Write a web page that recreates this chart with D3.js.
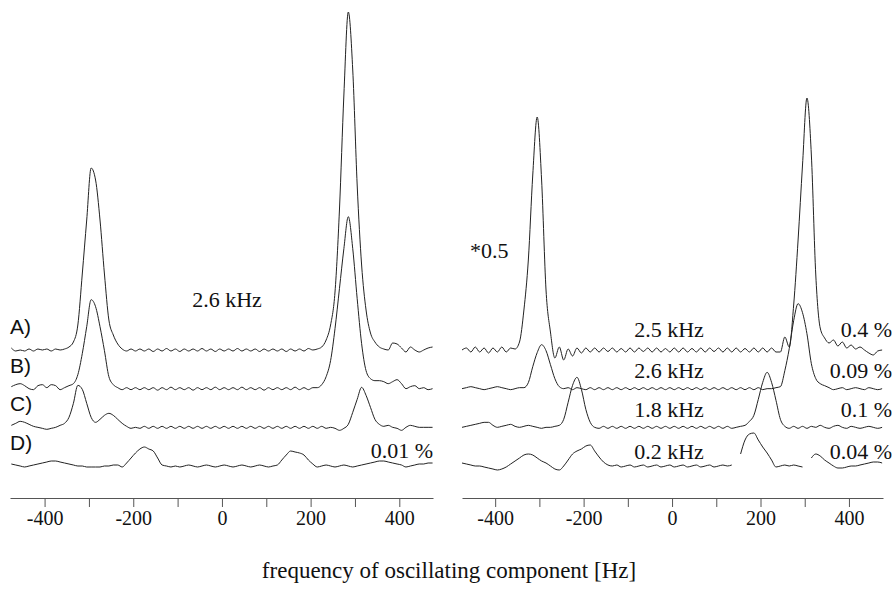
<!DOCTYPE html>
<html lang="en">
<head>
<meta charset="UTF-8">
<title>Oscillating component spectra</title>
<script src="https://d3js.org/d3.v7.min.js"></script>
<style>
  body { margin: 0; background: #fff; }
  .trace { fill: none; stroke: #222; stroke-width: 1; stroke-linejoin: round; }
  .axis path, .axis line { stroke: #555; stroke-width: 1; }
  .axis text { font-family: "Liberation Serif", "Times New Roman", serif; font-size: 20px; fill: #111; }
  .serif { font-family: "Liberation Serif", "Times New Roman", serif; font-size: 22px; fill: #111; }
  .sans { font-family: "Liberation Sans", Arial, sans-serif; font-size: 21px; fill: #111; }
</style>
</head>
<body>
<div id="chart"></div>
<script>
// sample grid (Hz), 10 Hz spacing
const freqHz = [-475,-465,-455,-445,-435,-425,-415,-405,-395,-385,
  -375,-365,-355,-345,-335,-325,-315,-305,-295,-285,
  -275,-265,-255,-245,-235,-225,-215,-205,-195,-185,
  -175,-165,-155,-145,-135,-125,-115,-105,-95,-85,
  -75,-65,-55,-45,-35,-25,-15,-5,5,15,
  25,35,45,55,65,75,85,95,105,115,
  125,135,145,155,165,175,185,195,205,215,
  225,235,245,255,265,275,285,295,305,315,
  325,335,345,355,365,375,385,395,405,415,
  425,435,445,455,465,475];

// left panel amplitudes
const leftA = [2,-1,0,-1,1,-1,1,0,1,-1,
  1,0,1,3,8,25,76,130,182,170,
  130,76,30,15,6,1,-1,1,-1,1,
  -1,1,-1.5,1,-1,1.5,-1,1,-1.5,1,
  -1,1,-1,1.5,-1,1,-1.5,1,-1,1,
  -1,1.5,-1,1,-1,1,-1.5,1,-1,1,
  -1,1,-1.5,1,-1,1,-1,1.5,0,1,
  3,10,25,58,140,255,338,280,165,85,
  40,17,8,3,1,0,7,6,2,-2,
  3,0,-2,0,2,3];
const leftB = [2,4,5,3,0,-1,3,4,1,4,
  3,-1,1,3,5,14,35,62,89,82,
  62,38,12,4,1,-1,1,-1,1,-1,
  1,-1,1,-1.5,1,-1,1.5,-1,1,-1,
  1,-1.5,1,-1,1,-1,1.5,-1,1,-1,
  1,-1,1.5,-1,1,-1,1,-1.5,1,-1,
  1,-1,1,-1,1.5,-1,1,-1,1,1,
  4,12,28,60,100,140,172,140,90,45,
  18,10,8,8,7,5,7,9,5,0,
  2,3,0,1,-1,0];
const leftC = [2,4,6,5,3,1,0,-1,-2,-1,
  0,2,4,10,24,42,38,24,10,5,
  8,12,14,12,8,4,1,-1,0,-1,
  1,-1,1,-1,1,-1,1,-1,1,-1,
  1,-1,1,-1,1,-1,1,-1,1,-1,
  1,-1,1,-1,1,-1,1,-1,1,-1,
  1,-1,1,-1,1,-1,1,-1,1,-1,
  1,-1,0,-1,-3,-1,3,15,28,40,
  32,20,8,3,1,2,0,-1,-3,0,
  2,1,0,0,0,0];
const leftD = [2,1,0,-1,0,1,2,3,4,5,
  5,4,3,2,1,0,0,-1,-1,-1,
  -1,0,0,1,1,-1,3,8,13,17,
  19,17,15,8,1,0,-1,0,-1,0,
  1,0,-1,0,1,0,-1,0,1,0,
  -1,0,1,0,-1,0,1,0,-1,0,
  1,6,11,15,14,13,11,6,2,-1,
  0,1,0,-1,0,1,0,-1,0,1,
  2,3,4,5,5,4,3,2,1,-1,
  0,1,2,2,3,3];

// right panel amplitudes (A shown *0.5)
const rightA = [0,2,-2,3,-2,2,-3,2,-2,3,
  -2,2,1,8,40,90,175,233,170,60,
  18,-8,3,-10,1,-6,2,-3,2,-2,
  2,-2,2,-1.5,2,-2,1.5,-2,2,-2,
  2,-1.5,2,-2,2,-2,1.5,-2,2,-2,
  2,-2,1.5,-2,2,-2,2,-1.5,2,-2,
  2,-2,2,-2,1.5,-2,2,-2,2,-2,
  2,-2,-2,13,3,45,110,185,252,195,
  75,22,12,7,10,4,8,2,5,1,
  3,0,-3,-5,-1,0];
const rightB = [0,1,2,1,0,-1,0,1,2,1,
  0,-1,0,1,1,6,22,36,44,38,
  24,10,2,0,1,-1,1,0,-1,1,
  -1,1,-1,1,-1,1,-1,1,-1,1,
  -1,1,-1,1,-1,1,-1,1,-1,1,
  -1,1,-1,1,-1,1,-1,1,-1,1,
  -1,1,-1,1,-1,1,-1,1,-1,0,
  0,1,2,18,40,68,85,76,55,25,
  10,5,3,1,-1,0,1,-1,0,1,
  0,-1,1,0,-1,0];
const rightC = [0,1,2,3,4,5,5,2,0,1,
  2,3,1,0,1,2,1,0,-1,0,
  0,1,2,8,25,42,50,38,18,5,
  0,-1,1,-1,1,-1,1,-1,1,-1,
  1,-1,1,-1,1,-1,1,-1,1,-1,
  1,-1,1,-1,1,-1,1,-1,1,-1,
  1,-1,0,1,2,6,12,28,45,55,
  45,27,8,1,-1,1,-1,1,-1,1,
  0,2,0,-1,1,2,0,-1,1,0,
  -1,0,1,0,-1,0];
const rightD = [3,2,1,0,0,-1,-2,-3,-4,-3,
  -1,2,5,8,11,12,11,8,5,3,
  0,-3,-4,0,6,12,15,17,20,21,
  15,9,4,1,0,1,-1,0,1,-1,
  0,1,-1,0,1,-1,0,1,-1,0,
  1,-1,0,1,-1,0,1,-1,0,1,
  0,1,null,12,26,32,33,26,19,13,
  6,-1,0,1,0,1,0,-1,null,8,
  12,10,6,3,0,-2,-2,-1,0,0,
  1,2,3,4,4,3];

const traceNames = ["A", "B", "C", "D"];
const traceLabels = ["A)", "B)", "C)", "D)"];
const leftKHz = "2.6 kHz";
const leftPct = "0.01 %";
const rightKHz = ["2.5 kHz", "2.6 kHz", "1.8 kHz", "0.2 kHz"];
const rightPct = ["0.4 %", "0.09 %", "0.1 %", "0.04 %"];
const scaleNote = "*0.5";
const tickHz = [-400, -300, -200, -100, 0, 100, 200, 300, 400];
const xTitle = "frequency of oscillating component [Hz]";

const width = 895;
const height = 595;

const svg = d3.select("#chart")
  .append("svg")
  .attr("width", width)
  .attr("height", height);

// x scales of the two panels
const xLeft = d3.scaleLinear().domain([-478, 476]).range([10, 433]);
const xRight = d3.scaleLinear().domain([-475, 477]).range([462, 883]);

// baselines of the stacked traces, and amplitude (1 unit = 1 px up)
const base = d3.scalePoint().domain(traceNames).range([350, 466]);
const amp = d3.scaleLinear().domain([0, 100]).range([0, -100]);

function drawPanel(x, series) {
  const g = svg.append("g");
  series.forEach((vals, i) => {
    const b = base(traceNames[i]);
    const pts = freqHz.map((f, j) => ({ f: f, v: vals[j] }));
    const line = d3.line()
      .defined(d => d.v !== null)
      .curve(d3.curveMonotoneX)
      .x(d => x(d.f))
      .y(d => b + amp(d.v));
    g.append("path")
      .attr("class", "trace")
      .attr("d", line(pts));
  });

  const axis = d3.axisBottom(x)
    .tickValues(tickHz)
    .tickSize(9)
    .tickSizeOuter(0)
    .tickPadding(4)
    .tickFormat(d => (d % 200 === 0 ? d : ""));
  const ax = svg.append("g")
    .attr("class", "axis")
    .attr("transform", "translate(0,498)")
    .call(axis);
  ax.selectAll("text").attr("fill", "#111");
}

drawPanel(xLeft, [leftA, leftB, leftC, leftD]);
drawPanel(xRight, [rightA, rightB, rightC, rightD]);

// trace letters
svg.selectAll(".letter")
  .data(traceLabels)
  .enter()
  .append("text")
  .attr("class", "sans")
  .attr("x", 10)
  .attr("y", (d, i) => base(traceNames[i]) - 16)
  .text(d => d);

// left panel notes
svg.append("text").attr("class", "serif")
  .attr("x", 227).attr("y", 307)
  .attr("text-anchor", "middle")
  .text(leftKHz);
svg.append("text").attr("class", "serif")
  .attr("x", 433).attr("y", 458)
  .attr("text-anchor", "end")
  .text(leftPct);

// right panel notes
const rowDy = [-13, -11, -10, -7];
svg.selectAll(".khz")
  .data(rightKHz)
  .enter()
  .append("text")
  .attr("class", "serif")
  .attr("x", 669)
  .attr("y", (d, i) => base(traceNames[i]) + rowDy[i])
  .attr("text-anchor", "middle")
  .text(d => d);
svg.selectAll(".pct")
  .data(rightPct)
  .enter()
  .append("text")
  .attr("class", "serif")
  .attr("x", 892)
  .attr("y", (d, i) => base(traceNames[i]) + rowDy[i])
  .attr("text-anchor", "end")
  .text(d => d);
svg.append("text").attr("class", "serif")
  .attr("x", 470).attr("y", 258)
  .text(scaleNote);

// axis title
svg.append("text").attr("class", "serif")
  .attr("x", 449).attr("y", 578)
  .attr("text-anchor", "middle")
  .style("font-size", "23px")
  .text(xTitle);
</script>
</body>
</html>
